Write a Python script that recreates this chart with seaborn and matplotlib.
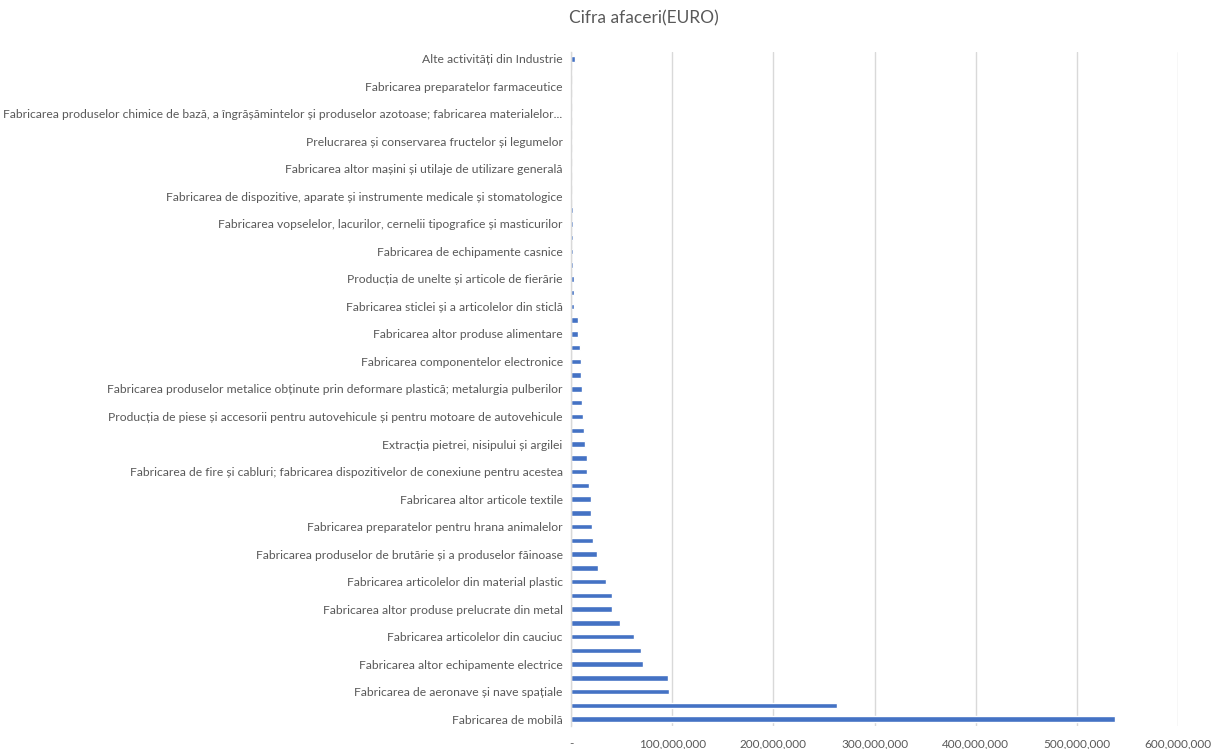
import numpy as np
import pandas as pd
import matplotlib
matplotlib.use('Agg')
import matplotlib.pyplot as plt
import seaborn as sns
from matplotlib.ticker import FuncFormatter

# categories top -> bottom; Excel only shows every other label, the hidden ones are unnamed
categories = [
    'Alte activități din Industrie', 'Categoria 02',
    'Fabricarea preparatelor farmaceutice', 'Categoria 04',
    'Fabricarea produselor chimice de bază, a îngrășămintelor și produselor azotoase; fabricarea materialelor...', 'Categoria 06',
    'Prelucrarea și conservarea fructelor și legumelor', 'Categoria 08',
    'Fabricarea altor mașini și utilaje de utilizare generală', 'Categoria 10',
    'Fabricarea de dispozitive, aparate și instrumente medicale și stomatologice', 'Categoria 12',
    'Fabricarea vopselelor, lacurilor, cernelii tipografice și masticurilor', 'Categoria 14',
    'Fabricarea de echipamente casnice', 'Categoria 16',
    'Producția de unelte și articole de fierărie', 'Categoria 18',
    'Fabricarea sticlei și a articolelor din sticlă', 'Categoria 20',
    'Fabricarea altor produse alimentare', 'Categoria 22',
    'Fabricarea componentelor electronice', 'Categoria 24',
    'Fabricarea produselor metalice obținute prin deformare plastică; metalurgia pulberilor', 'Categoria 26',
    'Producția de piese și accesorii pentru autovehicule și pentru motoare de autovehicule', 'Categoria 28',
    'Extracția pietrei, nisipului și argilei', 'Categoria 30',
    'Fabricarea de fire și cabluri; fabricarea dispozitivelor de conexiune pentru acestea', 'Categoria 32',
    'Fabricarea altor articole textile', 'Categoria 34',
    'Fabricarea preparatelor pentru hrana animalelor', 'Categoria 36',
    'Fabricarea produselor de brutărie și a produselor făinoase', 'Categoria 38',
    'Fabricarea articolelor din material plastic', 'Categoria 40',
    'Fabricarea altor produse prelucrate din metal', 'Categoria 42',
    'Fabricarea articolelor din cauciuc', 'Categoria 44',
    'Fabricarea altor echipamente electrice', 'Categoria 46',
    'Fabricarea de aeronave și nave spațiale', 'Categoria 48',
    'Fabricarea de mobilă',
]

# turnover in million EUR
turnover_mil = [
    4.3, 0.8, 0.9, 1.0, 1.0, 1.1, 1.1, 1.2, 1.3, 1.4,
    1.5, 1.6, 1.7, 1.8, 2.0, 2.2, 3.0, 3.2, 3.4, 6.6,
    7.2, 8.9, 9.5, 10.2, 10.9, 11.2, 12.2, 12.8, 13.8, 15.5,
    15.6, 18.1, 19.4, 19.6, 20.4, 21.7, 25.7, 26.3, 34.2, 40.8,
    40.9, 48.1, 62.3, 69.2, 71.2, 96.2, 97.2, 262.5, 538.0,
]

df = pd.DataFrame({'categorie': categories,
                   'cifra': np.array(turnover_mil) * 1e6})

sns.set_theme(style='white')
plt.rcParams['font.family'] = ['Lato', 'DejaVu Sans']

text_color = '#595959'

fig = plt.figure(figsize=(12.12, 7.49), dpi=100)
ax = fig.add_axes([0.4711, 0.0307, 0.9720 - 0.4711, 0.9306 - 0.0307])

sns.barplot(data=df, y='categorie', x='cifra', orient='h',
            color='#4472C4', width=0.4, saturation=1, ax=ax)

ax.set_xlim(0, 600e6)
ax.set_ylim(len(categories) - 0.5, -0.5)
ax.set_xticks(np.arange(0, 600e6 + 1, 100e6))
ax.xaxis.set_major_formatter(FuncFormatter(lambda v, p: '-' if v == 0 else f'{v:,.0f}'))

ax.set_yticks(range(0, len(categories), 2))
ax.set_yticklabels(categories[::2])

ax.grid(axis='x', color='#D9D9D9', linewidth=1)
ax.set_axisbelow(True)
for s in ['top', 'right', 'bottom']:
    ax.spines[s].set_visible(False)
ax.spines['left'].set_color('#D9D9D9')
ax.spines['left'].set_linewidth(1)

ax.tick_params(axis='x', length=0, pad=9, labelsize=8.5, labelcolor=text_color)
ax.tick_params(axis='y', length=0, pad=6, labelsize=8.7, labelcolor=text_color)
ax.set_xlabel('')
ax.set_ylabel('')

fig.text(0.531, 0.975, 'Cifra afaceri(EURO)', ha='center', va='center',
         fontsize=12.5, color=text_color)

fig.savefig('out.png', dpi=100)
